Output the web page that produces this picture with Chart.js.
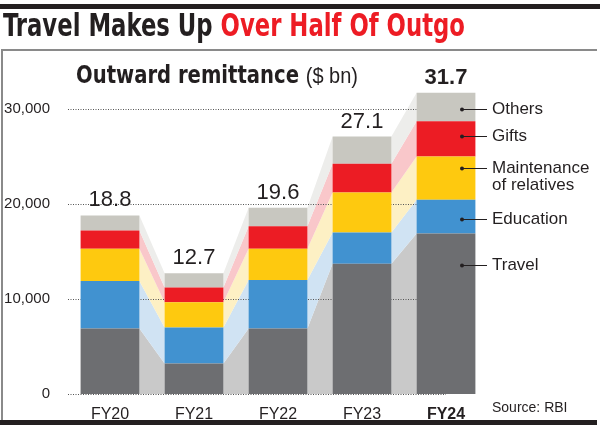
<!DOCTYPE html>
<html>
<head>
<meta charset="utf-8">
<script src="https://cdn.jsdelivr.net/npm/chart.js@4/dist/chart.umd.min.js"></script>
<style>
  html, body { margin: 0; padding: 0; background: #fff; }
  #wrap { position: relative; width: 600px; height: 425px; }
</style>
</head>
<body>
<div id="wrap"><canvas id="chart"></canvas></div>
<script>
// Data ($ mn)
const years = ['FY20', 'FY21', 'FY22', 'FY23', 'FY24'];
const travel = [6900, 3200, 6900, 13700, 16900];
const education = [5000, 3800, 5100, 3300, 3550];
const maintenance = [3400, 2650, 3300, 4200, 4550];
const gifts = [1900, 1550, 2350, 3050, 3700];
const others = [1600, 1500, 1950, 2850, 3000];
const yTicks = [0, 10000, 20000, 30000];

const seriesNames = ['Travel', 'Education', ['Maintenance', 'of relatives'], 'Gifts', 'Others'];
const barColors = ['#6d6e71', '#4192d0', '#fec90f', '#ec1c24', '#c8c7c0'];
const bandColors = ['#c9c9c9', '#d0e3f3', '#fdf0c4', '#f9c7ca', '#ededeb'];

const SANS = "'Liberation Sans', Arial, sans-serif";
const HEAVY = "'DejaVu Sans Condensed', 'DejaVu Sans', sans-serif";
const INK = '#231f20';

Chart.defaults.font.family = SANS;
Chart.defaults.color = INK;

// connecting bands + dotted grid, under the bars
const bandsPlugin = {
    id: 'bands',
    beforeDatasetsDraw(chart) {
        const { ctx, chartArea, scales: { y } } = chart;
        const metas = chart.data.datasets.map((d, i) => chart.getDatasetMeta(i));
        ctx.save();
        metas.forEach((meta, d) => {
            ctx.fillStyle = bandColors[d];
            for (let i = 0; i < meta.data.length - 1; i++) {
                const a = meta.data[i], b = meta.data[i + 1];
                const ax = a.x + a.width / 2, bx = b.x - b.width / 2;
                ctx.beginPath();
                ctx.moveTo(ax, a.y);
                ctx.lineTo(bx, b.y);
                ctx.lineTo(bx, b.base);
                ctx.lineTo(ax, a.base);
                ctx.closePath();
                ctx.fill();
            }
        });
        const last = metas[0].data[metas[0].data.length - 1];
        ctx.strokeStyle = '#555';
        ctx.lineWidth = 1;
        ctx.setLineDash([1, 1.5]);
        yTicks.forEach(v => {
            const py = Math.round(y.getPixelForValue(v)) + 0.5;
            ctx.beginPath();
            ctx.moveTo(chartArea.left, py);
            ctx.lineTo(last.x, py);
            ctx.stroke();
        });
        ctx.restore();
    }
};

function fitText(ctx, parts, x, baseline, width) {
    // parts: [{text, font, color}] drawn in one row, squeezed to width
    let total = 0;
    parts.forEach(p => { ctx.font = p.font; p.w = ctx.measureText(p.text).width; total += p.w; });
    const k = width / total;
    ctx.save();
    ctx.translate(x, baseline);
    ctx.scale(k, 1);
    let cx = 0;
    parts.forEach(p => {
        ctx.font = p.font;
        ctx.fillStyle = p.color;
        ctx.fillText(p.text, cx, 0);
        cx += p.w;
    });
    ctx.restore();
}

// frame, headings, totals, legend, source
const decorPlugin = {
    id: 'decor',
    afterDraw(chart) {
        const { ctx } = chart;
        ctx.save();
        ctx.textBaseline = 'alphabetic';
        ctx.textAlign = 'left';

        // frame: black rule on top, grey box edge left/top, black foot
        ctx.fillStyle = INK;
        ctx.fillRect(0, 4, 600, 5);
        ctx.fillStyle = '#8a8a8a';
        ctx.fillRect(1, 49, 596, 2);
        ctx.fillRect(1, 49, 2, 372);
        ctx.fillStyle = INK;
        ctx.fillRect(0, 420, 597, 5);

        fitText(ctx, [
            { text: 'Travel Makes Up ', font: 'bold 32px ' + HEAVY, color: INK },
            { text: 'Over Half Of Outgo', font: 'bold 32px ' + HEAVY, color: '#ed1c24' }
        ], 3, 36, 462);

        fitText(ctx, [
            { text: 'Outward remittance ', font: 'bold 24px ' + HEAVY, color: INK },
            { text: '($ bn)', font: '22px ' + SANS, color: INK }
        ], 76, 83, 282);

        // totals above bars
        const metas = chart.data.datasets.map((d, i) => chart.getDatasetMeta(i));
        const top = metas[metas.length - 1];
        ctx.textAlign = 'center';
        top.data.forEach((bar, i) => {
            const sum = chart.data.datasets.reduce((s, ds) => s + ds.data[i], 0);
            const bold = i === years.length - 1;
            ctx.font = (bold ? 'bold 22px ' : '22px ') + SANS;
            ctx.fillStyle = INK;
            ctx.fillText((sum / 1000).toFixed(1), bar.x, bar.y - 9);
        });

        // legend with leader lines
        const legendY = [265, 219, 168, 136, 109];
        ctx.textAlign = 'left';
        ctx.textBaseline = 'middle';
        ctx.font = '17px ' + SANS;
        seriesNames.forEach((name, d) => {
            const ly = legendY[d];
            ctx.strokeStyle = INK;
            ctx.lineWidth = 1;
            ctx.beginPath();
            ctx.moveTo(462, ly + 0.5);
            ctx.lineTo(487, ly + 0.5);
            ctx.stroke();
            ctx.fillStyle = INK;
            ctx.beginPath();
            ctx.arc(462, ly + 0.5, 2, 0, Math.PI * 2);
            ctx.fill();
            const lines = Array.isArray(name) ? name : [name];
            lines.forEach((t, k) => ctx.fillText(t, 492, ly + k * 17));
        });

        ctx.font = '14px ' + SANS;
        ctx.fillText('Source: RBI', 492, 408);
        ctx.restore();
    }
};

const series = [travel, education, maintenance, gifts, others];

new Chart(document.getElementById('chart'), {
    type: 'bar',
    data: {
        labels: years,
        datasets: series.map((vals, d) => ({
            label: Array.isArray(seriesNames[d]) ? seriesNames[d].join(' ') : seriesNames[d],
            data: vals,
            backgroundColor: barColors[d],
            borderWidth: 0,
            barPercentage: 0.7,
            categoryPercentage: 1
        }))
    },
    options: {
        responsive: true,
        maintainAspectRatio: false,
        animation: false,
        layout: { padding: { top: 71, right: 112, bottom: 0, left: 0 } },
        plugins: { legend: { display: false }, tooltip: { enabled: false } },
        scales: {
            x: {
                stacked: true,
                grid: { display: false },
                border: { display: false },
                ticks: {
                    padding: 3,
                    color: INK,
                    font: c => ({ family: SANS, size: 16, weight: c.index === years.length - 1 ? 'bold' : 'normal' })
                },
                afterFit: s => { s.height = 31; }
            },
            y: {
                stacked: true,
                min: 0,
                max: 34000,
                grid: { display: false },
                border: { display: false },
                afterBuildTicks: s => { s.ticks = yTicks.map(v => ({ value: v })); },
                ticks: {
                    padding: 10,
                    color: INK,
                    font: { family: SANS, size: 15 },
                    callback: v => v.toLocaleString('en-US')
                },
                afterFit: s => { s.width = 68; }
            }
        }
    },
    plugins: [bandsPlugin, decorPlugin]
});
</script>
</body>
</html>
